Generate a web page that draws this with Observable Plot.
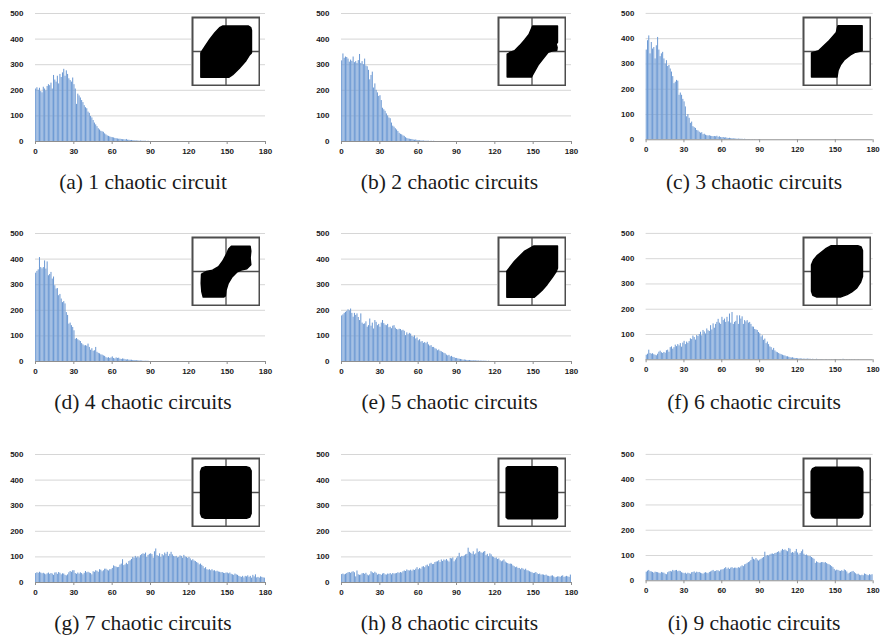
<!DOCTYPE html>
<html><head><meta charset="utf-8">
<script src="https://cdn.jsdelivr.net/npm/d3@7"></script>
<script src="https://cdn.jsdelivr.net/npm/@observablehq/plot@0.6"></script>
<style>
html,body{margin:0;padding:0;background:#fff;}
#root{position:relative;width:884px;height:639px;overflow:hidden;background:#fff;}
.panel,.inset{position:absolute;}
.panel svg,.inset svg{display:block;}
.cap{position:absolute;font-family:"Liberation Serif","Times New Roman",serif;font-size:21.5px;line-height:1;color:#1a1a1a;white-space:pre;transform:translateX(-50%);}
</style></head><body><div id="root"></div>
<script>
// Tick labels
const xTicks = [0, 30, 60, 90, 120, 150, 180];
const yTicks = [0, 100, 200, 300, 400, 500];

// Captions
const captions = [
  "(a) 1 chaotic circuit", "(b) 2 chaotic circuits", "(c) 3 chaotic circuits",
  "(d) 4 chaotic circuits", "(e) 5 chaotic circuits", "(f) 6 chaotic circuits",
  "(g) 7 chaotic circuits", "(h) 8 chaotic circuits", "(i) 9 chaotic circuits"
];

// Histogram counts, one value per degree starting at 0 (later degrees are 0)
const countsA = [205,210,200,208,195,190,212,205,198,215, 222,218,228,205,258,240,232,255,225,262,
  250,268,282,255,276,262,245,238,232,248, 222,205,145,185,178,170,160,152,140,132,
  128,115,110,98,92,82,72,65,58,50, 45,40,38,36,30,26,22,20,18,16,
  15,14,12,11,10,9,9,8,7,7, 6,8,5,5,4,4,3,3,2,2, 2,1,2,1,1,1,1,0,1,0];
const countsB = [315,342,325,330,328, 322,310,318,313,330, 308,312,305,316,340, 305,312,300,322,295,
  292,278,241,258,271, 209,225,200,190,176, 179,160,130,124,118, 108,100,92,89,72,
  60,56,50,45,39, 32,28,26,22,20, 15,12,10,9,8, 8,6,5,6,4, 3,3,2,2,2, 1,1,1,1,0,1,0,1];
const countsC = [355,392,411,340,385, 359,365,320,372,405, 355,329,340,346,320, 300,313,290,294,280,
  268,250,222,228,235, 232,176,185,176,160, 150,130,91,100,85, 65,70,52,48,45,
  37,35,30,26,28, 20,22,18,16,15, 16,14,13,12,13, 12,14,10,12,9, 8,9,7,8,6, 5,6,5,4,4,
  3,3,2,3,2,2,2,1,2,1, 1,1,1,0,1,0,1,0,0,1];
const countsD = [345,352,358,406,367, 362,367,393,361,389, 335,340,348,322,330, 296,283,285,257,262,
  244,230,234,225,191, 180,146,150,140,133, 120,87,90,85,81, 78,70,65,61,62,
  60,68,55,44,50, 40,42,55,36,32, 30,26,25,22,20, 15,13,15,12,14, 18,12,10,14,12, 13,9,8,10,9,
  7,6,7,5,5,5,4,4,3,3, 3,2,2,2,1,1,1,1,1,0];
const countsE = [178,182,188,192,196, 202,198,205,188,173, 188,180,186,172,160, 186,150,145,147,155,
  134,140,166,138,150, 127,160,153,140,145, 134,150,160,148,142, 140,145,132,134,128,
  138,140,130,125,123, 126,125,120,122,118, 101,112,105,110,107, 98,95,100,88,92,
  81,85,76,78,71, 74,70,75,65,60, 62,55,55,50,48, 42,45,40,38,35, 32,30,25,22,24, 18,20,16,15,12,
  12,10,9,8,7, 5,6,5,4,4, 4,3,3,3,2,3,2,2,1,2, 1,1,1,1,0,1];
const countsF = [18,22,38,25,22, 24,20,18,16,22, 30,34,28,25,29, 26,36,38,30,48,
  51,42,48,58,52, 60,55,64,50,66, 73,60,70,65,72, 83,80,94,88,78,
  96,92,100,109,95, 116,110,102,122,115, 112,135,118,142,125, 140,148,160,145,140,
  168,155,161,148,168, 150,181,145,187,140, 148,152,174,140,174, 161,170,140,155,150,
  155,145,148,140,130, 129,120,118,116,108, 103,90,95,77,82, 64,70,60,51,48,
  38,45,35,30,28, 25,22,20,18,16, 15,12,12,10,8, 7,8,6,5,5,
  4,3,4,3,2,3,2,2,3,2, 2,1,2,1,1,2,1,1,1,1, 1,0,1,1,0,1,0,1,0,1, 0,1,0,1,1,0,2,1,0,1, 0,1,0,1,0,1,0,0,1,0];
const countsG = [35,38,36,40,37,34,36,33,30,34, 37,32,35,33,28,37,38,32,39,36,
  30,34,33,28,26,30,38,43,40,46, 46,35,32,37,33,38,35,30,36,43,
  38,40,37,35,30,42,40,46,44,40, 50,48,42,46,52,52,48,45,50,50,
  55,65,62,60,58,59,68,72,89,66, 69,75,70,82,85,90,98,95,102,96,
  100,96,105,109,112,110,115,98,106,110, 112,109,95,120,131,105,102,112,98,109,
  104,115,110,118,102,110,118,108,102,100, 102,96,98,104,102,95,106,100,98,94,
  98,92,85,89,84,82,78,75,69,72, 67,62,54,58,50,48,50,46,50,45,
  46,42,44,41,40,38,39,36,35,37, 37,34,37,32,30,28,33,30,28,24,
  22,20,24,18,24,22,26,20,24,17, 28,22,30,18,20,17,22,20,18,17];
const countsH = [31,33,30,32,35,38,39,36,40,42, 38,22,45,30,28,29,34,35,32,36,
  29,26,30,42,38,35,40,36,29,32, 31,28,33,35,30,29,33,32,35,30,
  35,33,34,35,38,36,39,37,42,45, 43,49,46,45,48,44,49,47,52,58,
  50,55,52,60,62,58,65,68,62,72, 75,70,71,78,80,81,85,78,88,82,
  88,85,90,84,80,94,92,96,81,88, 95,101,114,98,102,101,104,108,110,134,
  118,114,110,120,108,112,131,118,121,116, 114,118,121,105,110,101,112,108,100,98,
  94,96,90,92,85,81,84,88,80,76, 74,71,72,71,65,62,58,60,55,55,
  50,55,52,48,52,46,45,42,40,38, 35,36,39,34,31,33,29,30,29,27,
  29,25,24,22,25,26,22,18,20,22, 22,20,24,26,20,22,24,22,20,29];
const countsI = [34,38,41,36,35,33,30,34,33,32, 30,28,33,31,30,26,24,32,35,37,
  35,41,38,40,41,36,38,37,32,30, 28,30,26,30,28,26,32,33,35,30,
  34,32,33,30,28,26,30,32,30,28, 33,35,38,41,36,37,40,39,36,42,
  43,44,48,52,46,50,45,50,52,48, 50,50,48,52,50,55,59,56,63,65,
  69,72,75,80,93,85,82,88,82,78, 82,85,89,92,113,96,100,98,102,105,
  106,104,108,109,112,115,110,118,124,120, 122,118,115,128,125,109,112,109,115,124,
  110,102,108,115,122,105,100,102,98,96, 96,92,89,85,69,75,72,69,70,72,
  72,70,72,68,65,63,60,56,52,45, 39,42,41,38,37,40,37,43,40,35,
  27,30,33,35,37,32,28,24,26,22, 20,22,20,27,25,22,20,24,22,24];

// Inset attractor outlines (normalized box coordinates, -1..1)
const blobA = [[-0.09,0.75],[0.66,0.75],[0.74,0.70],[0.76,0.62],[0.76,-0.04],[0.70,-0.10],[0.58,-0.29],[0.39,-0.50],[0.20,-0.68],[0.08,-0.76],[-0.75,-0.76],[-0.75,-0.04],[-0.62,0.16],[-0.48,0.36],[-0.33,0.55],[-0.19,0.70]];
const blobB = [[0.02,0.75],[0.76,0.75],[0.76,0.27],[0.72,0.22],[0.75,0.12],[0.74,0.04],[0.62,0.02],[0.48,-0.02],[0.32,-0.22],[0.18,-0.40],[0.08,-0.58],[-0.02,-0.75],[-0.74,-0.75],[-0.74,-0.08],[-0.64,-0.02],[-0.52,0.02],[-0.36,0.18],[-0.22,0.34],[-0.09,0.50],[-0.03,0.64]];
const blobC = [[0.03,0.76],[0.75,0.76],[0.75,0.02],[0.55,-0.02],[0.40,-0.10],[0.22,-0.24],[0.10,-0.40],[0.03,-0.56],[0.0,-0.75],[-0.76,-0.75],[-0.76,-0.04],[-0.55,0.02],[-0.26,0.29],[-0.02,0.56]];
const blobD = [[0.16,0.74],[0.72,0.74],[0.74,0.60],[0.72,0.40],[0.74,0.20],[0.62,0.08],[0.45,0.04],[0.32,-0.02],[0.18,-0.16],[0.06,-0.36],[0.0,-0.55],[-0.02,-0.72],[-0.06,-0.75],[-0.68,-0.75],[-0.72,-0.60],[-0.74,-0.35],[-0.73,-0.08],[-0.58,0.0],[-0.40,0.04],[-0.22,0.14],[-0.10,0.30],[0.02,0.52],[0.08,0.66]];
const blobE = [[0.06,0.75],[0.76,0.75],[0.76,0.10],[0.72,0.0],[0.60,-0.18],[0.45,-0.38],[0.30,-0.55],[0.18,-0.66],[0.06,-0.76],[-0.75,-0.76],[-0.75,0.01],[-0.52,0.30],[-0.23,0.59]];
const blobF = [[-0.17,0.76],[0.62,0.76],[0.72,0.72],[0.76,0.62],[0.76,-0.15],[0.70,-0.32],[0.59,-0.48],[0.44,-0.60],[0.30,-0.68],[0.10,-0.75],[-0.60,-0.75],[-0.72,-0.70],[-0.76,-0.58],[-0.76,0.20],[-0.70,0.34],[-0.60,0.46],[-0.45,0.58],[-0.32,0.68]];
const blobG = [[-0.61,0.76],[0.60,0.76],[0.70,0.73],[0.75,0.64],[0.75,-0.62],[0.71,-0.72],[0.61,-0.76],[-0.62,-0.76],[-0.72,-0.72],[-0.76,-0.62],[-0.76,0.62],[-0.72,0.72]];
const blobH = [[-0.72,0.76],[0.72,0.76],[0.76,0.72],[0.76,-0.73],[0.72,-0.77],[-0.72,-0.77],[-0.77,-0.73],[-0.77,0.72]];
const blobI = [[-0.65,0.74],[0.66,0.74],[0.74,0.70],[0.77,0.62],[0.77,-0.63],[0.73,-0.72],[0.65,-0.75],[-0.65,-0.75],[-0.73,-0.71],[-0.77,-0.62],[-0.77,0.62],[-0.73,0.70]];

const allCounts = [countsA,countsB,countsC,countsD,countsE,countsF,countsG,countsH,countsI];
const allBlobs = [blobA,blobB,blobC,blobD,blobE,blobF,blobG,blobH,blobI];

// Layout
const colLeft = [35, 341, 645.5];
const colCap = [143, 449.5, 754];
const rowTop = [12.5, 232.7, 453.7];
const plotW = 230, plotH = 128;
const mL = 30, mR = 12, mT = 6, mB = 20;

const root = document.getElementById("root");

allCounts.forEach((counts, i) => {
  const c = i % 3, r = Math.floor(i / 3);
  const data = counts.map((v, deg) => ({deg, count: v}));
  const chart = Plot.plot({
    width: mL + plotW + mR, height: mT + plotH + mB,
    marginLeft: mL, marginRight: mR, marginTop: mT, marginBottom: mB,
    x: {domain: [0, 180]},
    y: {domain: [0, 500]},
    style: {fontFamily: "'Liberation Sans', Arial, sans-serif", fontSize: "8px", fontWeight: "bold", color: "#1a1a1a", background: "transparent", overflow: "visible"},
    marks: [
      Plot.gridY(yTicks.slice(1), {stroke: "#d6d6d6", strokeOpacity: 1}),
      Plot.rectY(data, {x: "deg", y: "count", interval: 1, fill: "#6f9bd4", insetLeft: 0.12, insetRight: 0.12}),
      Plot.ruleY([0], {stroke: "#8f8f8f"}),
      Plot.axisX({ticks: xTicks, tickSize: 3, tickPadding: 4, stroke: "#8f8f8f", tickFormat: d => String(d), label: null, fontWeight: "bold"}),
      Plot.axisY({ticks: yTicks, tickSize: 0, tickPadding: 12, tickFormat: d => String(d), label: null, fontWeight: "bold"})
    ]
  });
  const wrap = document.createElement("div");
  wrap.className = "panel";
  wrap.style.left = (colLeft[c] - mL) + "px";
  wrap.style.top = (rowTop[r] - mT) + "px";
  wrap.appendChild(chart);
  root.appendChild(wrap);

  const inset = Plot.plot({
    width: 69, height: 70, margin: 1,
    x: {domain: [-1, 1], axis: null},
    y: {domain: [-1, 1], axis: null},
    style: {background: "#fff"},
    marks: [
      Plot.ruleX([0], {stroke: "#4d4d4d", strokeWidth: 1.3}),
      Plot.ruleY([0], {stroke: "#4d4d4d", strokeWidth: 1.3}),
      Plot.line(allBlobs[i], {x: d => d[0], y: d => d[1], fill: "#000", stroke: "#000", strokeWidth: 1.5, curve: "linear-closed"}),
      Plot.frame({stroke: "#4d4d4d", strokeWidth: 2})
    ]
  });
  const iw = document.createElement("div");
  iw.className = "inset";
  iw.style.left = (colLeft[c] + plotW - 5 - 69) + "px";
  iw.style.top = (rowTop[r] + 3.3) + "px";
  iw.appendChild(inset);
  root.appendChild(iw);

  const cap = document.createElement("div");
  cap.className = "cap";
  cap.textContent = captions[i];
  cap.style.left = colCap[c] + "px";
  cap.style.top = (rowTop[r] + 127.5 + 49.5 - 18) + "px";
  root.appendChild(cap);
});
</script>
</body></html>
